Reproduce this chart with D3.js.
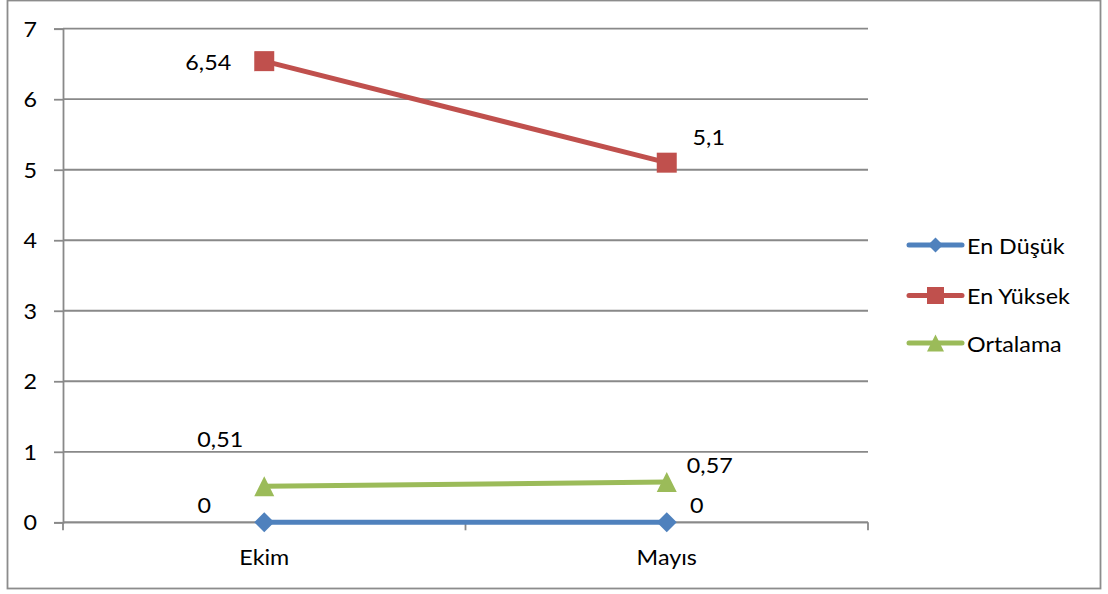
<!DOCTYPE html>
<html>
<head>
<meta charset="utf-8">
<script src="https://cdn.jsdelivr.net/npm/d3@7"></script>
<style>
  html, body { margin: 0; padding: 0; background: #fff; }
  svg { display: block; font-family: Lato, Carlito, "Open Sans", sans-serif; }
</style>
</head>
<body>
<svg id="chart" width="1108" height="594"></svg>
<script>
// Categories, series values and axis ticks
const categories = ["Ekim", "Mayıs"];
const seriesNames = ["En Düşük", "En Yüksek", "Ortalama"];
const enDusuk = [0, 0];
const enYuksek = [6.54, 5.1];
const ortalama = [0.51, 0.57];
const yTicks = [0, 1, 2, 3, 4, 5, 6, 7];

const colors = ["#4F81BD", "#C0504D", "#9BBB59"];
const markerTypes = ["diamond", "square", "triangle"];
const markerR = [10, 10, 10];        // half-size of markers on the lines
const legendMarkerR = [7.5, 8.5, 8.5];
const seriesValues = [enDusuk, enYuksek, ortalama];

// label offsets (dx, dy) of the label's centre from each point
const labelOffsets = [
  [[-60, -17], [30, -17]],
  [[-56, 1], [42, -26]],
  [[-44, -47], [43, -17]]
];

const FONT = 22, STRETCH = 1.06, CAP = 0.358 * FONT;
const fmt = v => String(v).replace(".", ",");

// marker outlines centred on the origin
function markerPath(type, r) {
  const p = d3.path();
  if (type === "diamond") {
    p.moveTo(0, -r); p.lineTo(r, 0); p.lineTo(0, r); p.lineTo(-r, 0);
  } else if (type === "square") {
    p.rect(-r, -r, 2 * r, 2 * r);
  } else {
    p.moveTo(0, -r); p.lineTo(r, r); p.lineTo(-r, r);
  }
  p.closePath();
  return p.toString();
}

// text placed by the centre of its capitals, slightly widened
function addText(g, x, y, str, anchor) {
  return g.append("text")
    .attr("transform", `translate(${x},${y + CAP}) scale(${STRETCH},1)`)
    .attr("text-anchor", anchor || "middle")
    .attr("font-size", FONT)
    .attr("fill", "#000")
    .text(str);
}

const svg = d3.select("#chart");

// chart area border
svg.append("rect")
  .attr("x", 7.5).attr("y", 0.5)
  .attr("width", 1093).attr("height", 588)
  .attr("fill", "#fff").attr("stroke", "#8c8c8c").attr("stroke-width", 1.8);

const plot = { left: 63, right: 868, top: 28.7, bottom: 522.3 };

const x = d3.scaleBand().domain(categories).range([plot.left, plot.right]);
const y = d3.scaleLinear().domain([0, 7]).range([plot.bottom, plot.top]);
const cx = c => x(c) + x.bandwidth() / 2;

// horizontal gridlines
svg.append("g")
  .selectAll("line")
  .data(yTicks)
  .join("line")
  .attr("x1", plot.left).attr("x2", plot.right)
  .attr("y1", d => y(d)).attr("y2", d => y(d))
  .attr("stroke", "#898989").attr("stroke-width", 1.8);

// y axis
const yAxis = svg.append("g")
  .attr("transform", `translate(${plot.left},0)`)
  .call(d3.axisLeft(y).tickValues(yTicks).tickSize(9).tickFormat(""));
yAxis.select(".domain").attr("stroke", "#898989").attr("stroke-width", 1.8);
yAxis.selectAll(".tick line").attr("stroke", "#898989").attr("stroke-width", 1.8);
const yLabels = svg.append("g");
yTicks.forEach(t => addText(yLabels, plot.left - 26, y(t), t, "end"));

// x axis with ticks between categories
const xAxisG = svg.append("g").attr("transform", `translate(0,${plot.bottom})`);
xAxisG.append("line")
  .attr("x1", plot.left).attr("x2", plot.right)
  .attr("stroke", "#898989").attr("stroke-width", 1.8);
const boundaries = [plot.left, ...categories.slice(1).map(c => x(c)), plot.right];
xAxisG.selectAll("line.tk")
  .data(boundaries)
  .join("line").attr("class", "tk")
  .attr("x1", d => d).attr("x2", d => d)
  .attr("y1", 0).attr("y2", 8)
  .attr("stroke", "#898989").attr("stroke-width", 1.8);
const xLabels = svg.append("g");
categories.forEach(c => addText(xLabels, cx(c), plot.bottom + 35, c));

const line = d3.line()
  .x((d, i) => cx(categories[i]))
  .y(d => y(d));

// series lines, markers and value labels
seriesValues.forEach((vals, s) => {
  const g = svg.append("g");
  g.append("path")
    .datum(vals)
    .attr("d", line)
    .attr("fill", "none")
    .attr("stroke", colors[s])
    .attr("stroke-width", 5)
    .attr("stroke-linecap", "round");
  g.selectAll("path.m")
    .data(vals)
    .join("path").attr("class", "m")
    .attr("transform", (d, i) => `translate(${cx(categories[i])},${y(d)})`)
    .attr("d", markerPath(markerTypes[s], markerR[s]))
    .attr("fill", colors[s]);
  vals.forEach((v, i) => {
    addText(g, cx(categories[i]) + labelOffsets[s][i][0], y(v) + labelOffsets[s][i][1], fmt(v));
  });
});

// legend
const legendY = [245, 295.5, 343];
const legend = svg.append("g");
seriesNames.forEach((name, s) => {
  const ly = legendY[s];
  legend.append("line")
    .attr("x1", 909).attr("x2", 962)
    .attr("y1", ly).attr("y2", ly)
    .attr("stroke", colors[s]).attr("stroke-width", 5)
    .attr("stroke-linecap", "round");
  legend.append("path")
    .attr("transform", `translate(935.5,${ly})`)
    .attr("d", markerPath(markerTypes[s], legendMarkerR[s]))
    .attr("fill", colors[s]);
  addText(legend, 967, ly + 1, name, "start");
});
</script>
</body>
</html>
